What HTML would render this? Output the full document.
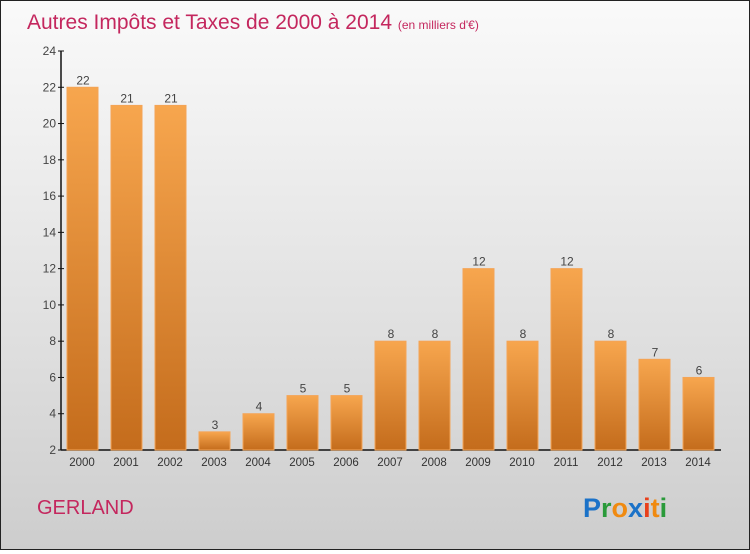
<!DOCTYPE html>
<html><head><meta charset="utf-8"><style>
html,body{margin:0;padding:0}
body{width:750px;height:550px;overflow:hidden;font-family:"Liberation Sans",sans-serif}
#wrap{position:relative;width:748px;height:548px;border:1px solid #222;background:linear-gradient(#fafafa,#e0e0e0 60%,#cdcdcd)}
</style></head><body>
<div id="wrap">
<svg id="chart" width="748" height="548">
<defs><linearGradient id="g" x1="0" y1="0" x2="0" y2="1"><stop offset="0" stop-color="#f7a64e"/><stop offset="1" stop-color="#c46c1c"/></linearGradient></defs>
<text x="26" y="28" font-size="21" fill="#c4275e">Autres Impôts et Taxes de 2000 à 2014 <tspan font-size="12">(en milliers d'€)</tspan></text>
<text x="36" y="513" font-size="20" fill="#c4275e">GERLAND</text>
<g font-size="27" font-weight="bold"><text x="582" y="516" fill="#1b72c8">P<tspan fill="#2a9a3a">r</tspan><tspan fill="#f08a10">o</tspan><tspan fill="#1b72c8">x</tspan><tspan fill="#e8401c">i</tspan><tspan fill="#f08a10">t</tspan><tspan fill="#2a9a3a">i</tspan></text></g>
<g id="plot"></g>
</svg>
</div>
<script>
const years=["2000","2001","2002","2003","2004","2005","2006","2007","2008","2009","2010","2011","2012","2013","2014"];
const values=[22,21,21,3,4,5,5,8,8,12,8,12,8,7,6];
const yTicks=[2,4,6,8,10,12,14,16,18,20,22,24];
const ns="http://www.w3.org/2000/svg";
const plot=document.getElementById('plot');
const y0=449,y1=50,vmin=2,vmax=24;
const ys=v=>y0-(v-vmin)/(vmax-vmin)*(y0-y1);
const xs=i=>81+i*44;
function mk(t,a){const e=document.createElementNS(ns,t);for(const k in a)e.setAttribute(k,a[k]);plot.appendChild(e);return e;}
let ax=mk('line',{x1:60,y1:y1,x2:60,y2:y0,stroke:'#111','stroke-width':1.5});


let bx=mk('line',{x1:60,y1:y0,x2:720,y2:y0,stroke:'#111','stroke-width':1.5});


yTicks.forEach(v=>{
 const tk=mk('line',{x1:57,x2:63,y1:ys(v),y2:ys(v),stroke:'#111'});
 
 
 const t=mk('text',{x:55,y:ys(v)+4,'text-anchor':'end','font-size':12,fill:'#444'});
 t.textContent=v;
 
 
});
values.forEach((v,i)=>{
 const r=mk('rect',{x:xs(i)-15,y:ys(v),width:31,height:y0-ys(v),fill:'url(#g)',stroke:'#f4a456','stroke-width':1});
 
 
 const t=mk('text',{x:xs(i)+1,y:ys(v)-3,'text-anchor':'middle','font-size':12,fill:'#444'});
 t.textContent=v;
 
 
 const l=mk('text',{x:xs(i),y:465,'text-anchor':'middle','font-size':11.5,fill:'#333'});
 l.textContent=years[i];
 
 
});
</script>
</body></html>
